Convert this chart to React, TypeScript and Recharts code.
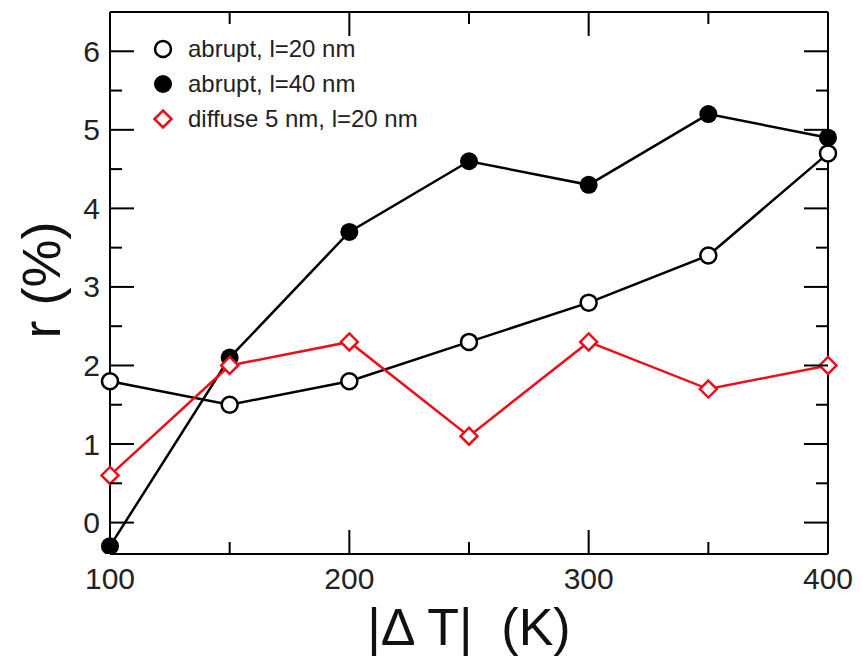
import React from 'react';
import { LineChart, Line, XAxis, YAxis } from 'recharts';

const temps = [100, 150, 200, 250, 300, 350, 400];
const abrupt20 = [1.8, 1.5, 1.8, 2.3, 2.8, 3.4, 4.7];
const abrupt40 = [-0.3, 2.1, 3.7, 4.6, 4.3, 5.2, 4.9];
const diffuse5 = [0.6, 2.0, 2.3, 1.1, 2.3, 1.7, 2.0];

const xTicks = [100, 150, 200, 250, 300, 350, 400];
const yTicks = [0, 0.5, 1, 1.5, 2, 2.5, 3, 3.5, 4, 4.5, 5, 5.5, 6];

const legendItems = [
  { label: 'abrupt, l=20 nm', kind: 'open' },
  { label: 'abrupt, l=40 nm', kind: 'filled' },
  { label: 'diffuse 5 nm, l=20 nm', kind: 'diamond' },
];

const data = temps.map((t, i) => ({
  t,
  a20: abrupt20[i],
  a40: abrupt40[i],
  d5: diffuse5[i],
}));

const RED = '#e8101a';
const FONT = '"Liberation Sans", Arial, sans-serif';
const MAJOR = 24;
const MINOR = 12;

function isMajorX(v: number) { return v % 100 === 0; }
function isMajorY(v: number) { return Number.isInteger(v); }

function BottomTick(props: any) {
  const { x, y, payload } = props;
  const major = isMajorX(payload.value);
  return (
    <g>
      <line x1={x} y1={y} x2={x} y2={y - (major ? MAJOR : MINOR)} stroke="#000" strokeWidth={2} />
      {major && (
        <text x={x} y={y + 35} textAnchor="middle" fontSize={30} fontFamily={FONT} fill="#222">
          {payload.value}
        </text>
      )}
    </g>
  );
}

function TopTick(props: any) {
  const { x, y, payload } = props;
  const major = isMajorX(payload.value);
  return <line x1={x} y1={y} x2={x} y2={y + (major ? MAJOR : MINOR)} stroke="#000" strokeWidth={2} />;
}

function LeftTick(props: any) {
  const { x, y, payload } = props;
  const major = isMajorY(payload.value);
  return (
    <g>
      <line x1={x} y1={y} x2={x + (major ? MAJOR : MINOR)} y2={y} stroke="#000" strokeWidth={2} />
      {major && (
        <text x={x - 10} y={y} textAnchor="end" dominantBaseline="central" fontSize={30} fontFamily={FONT} fill="#222">
          {payload.value}
        </text>
      )}
    </g>
  );
}

function RightTick(props: any) {
  const { x, y, payload } = props;
  const major = isMajorY(payload.value);
  return <line x1={x} y1={y} x2={x - (major ? MAJOR : MINOR)} y2={y} stroke="#000" strokeWidth={2} />;
}

function OpenDot(props: any) {
  const { cx, cy, index } = props;
  return <circle key={index} cx={cx} cy={cy} r={8} fill="#fff" stroke="#000" strokeWidth={2.5} />;
}

function FilledDot(props: any) {
  const { cx, cy, index } = props;
  return <circle key={index} cx={cx} cy={cy} r={9} fill="#000" />;
}

function DiamondDot(props: any) {
  const { cx, cy, index } = props;
  const s = 8.5;
  return (
    <path
      key={index}
      d={`M${cx},${cy - s} L${cx + s},${cy} L${cx},${cy + s} L${cx - s},${cy} Z`}
      fill="#fff"
      stroke={RED}
      strokeWidth={2.5}
    />
  );
}

function LegendIcon({ kind }: { kind: string }) {
  return (
    <svg width={22} height={22} style={{ display: 'block' }}>
      {kind === 'open' && <circle cx={11} cy={11} r={8} fill="#fff" stroke="#000" strokeWidth={2.5} />}
      {kind === 'filled' && <circle cx={11} cy={11} r={9} fill="#000" />}
      {kind === 'diamond' && <path d="M11,2.5 L19.5,11 L11,19.5 L2.5,11 Z" fill="#fff" stroke={RED} strokeWidth={2.5} />}
    </svg>
  );
}

export default function App() {
  return (
    <div style={{ position: 'absolute', left: 0, top: 0, width: 863, height: 662, background: '#fff' }}>
      <LineChart width={863} height={662} data={data} margin={{ top: 0, right: 0, bottom: 0, left: 0 }}>
        <XAxis
          dataKey="t"
          type="number"
          domain={[100, 400]}
          ticks={xTicks}
          height={108}
          tickSize={0}
          tickMargin={0}
          tickLine={false}
          tick={<BottomTick />}
          axisLine={{ stroke: '#000', strokeWidth: 2 }}
          interval={0}
        />
        <XAxis
          xAxisId="t"
          orientation="top"
          dataKey="t"
          type="number"
          domain={[100, 400]}
          ticks={xTicks}
          height={12}
          tickSize={0}
          tickMargin={0}
          tickLine={false}
          tick={<TopTick />}
          axisLine={{ stroke: '#000', strokeWidth: 2 }}
          interval={0}
        />
        <YAxis
          type="number"
          domain={[-0.4, 6.5]}
          allowDataOverflow
          ticks={yTicks}
          width={110}
          tickSize={0}
          tickMargin={0}
          tickLine={false}
          tick={<LeftTick />}
          axisLine={{ stroke: '#000', strokeWidth: 2 }}
          interval={0}
        />
        <YAxis
          yAxisId="r"
          orientation="right"
          type="number"
          domain={[-0.4, 6.5]}
          allowDataOverflow
          ticks={yTicks}
          width={35}
          tickSize={0}
          tickMargin={0}
          tickLine={false}
          tick={<RightTick />}
          axisLine={{ stroke: '#000', strokeWidth: 2 }}
          interval={0}
        />
        <Line
          xAxisId="t"
          yAxisId="r"
          dataKey="a20"
          stroke="none"
          dot={false}
          activeDot={false}
          legendType="none"
          isAnimationActive={false}
        />
        <Line dataKey="a20" stroke="#000" strokeWidth={2.5} dot={<OpenDot />} activeDot={false} isAnimationActive={false} />
        <Line dataKey="a40" stroke="#000" strokeWidth={2.5} dot={<FilledDot />} activeDot={false} isAnimationActive={false} />
        <Line dataKey="d5" stroke={RED} strokeWidth={2.5} dot={<DiamondDot />} activeDot={false} isAnimationActive={false} />
      </LineChart>
      <svg width={863} height={662} style={{ position: 'absolute', left: 0, top: 0, pointerEvents: 'none' }}>
        <text
          x={41}
          y={280}
          transform="rotate(-90 41 280)"
          textAnchor="middle"
          dominantBaseline="central"
          fontSize={54}
          fontFamily={FONT}
          fill="#111"
        >
          r (%)
        </text>
        <text x={469} y={645} textAnchor="middle" fontSize={52} fontFamily={FONT} fill="#111" xmlSpace="preserve">
          |Δ T|  (K)
        </text>
      </svg>
      <div style={{ position: 'absolute', left: 152, top: 31, fontFamily: FONT, fontSize: 24, color: '#222' }}>
        {legendItems.map(item => (
          <div key={item.label} style={{ display: 'flex', alignItems: 'center', height: 35 }}>
            <LegendIcon kind={item.kind} />
            <span style={{ marginLeft: 14 }}>{item.label}</span>
          </div>
        ))}
      </div>
    </div>
  );
}
